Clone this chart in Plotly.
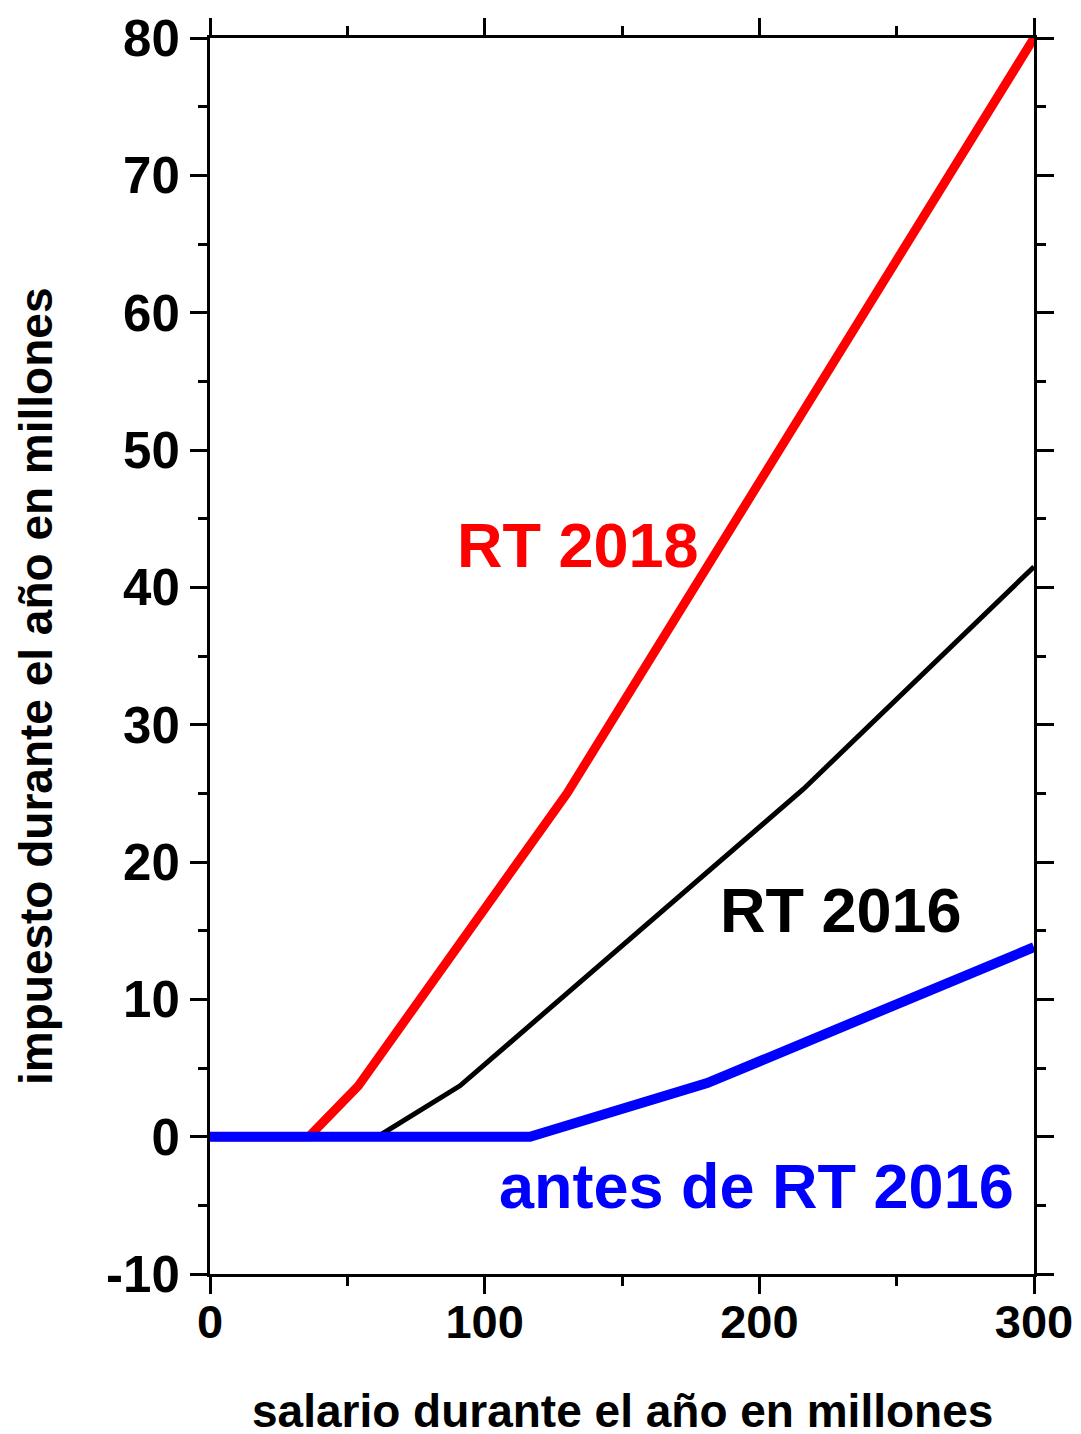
import plotly.graph_objects as go

# Data
x_rt2018 = [0, 36, 54, 130, 300]
y_rt2018 = [0, 0, 3.7, 25, 80]

x_rt2016 = [0, 61, 91, 216, 300]
y_rt2016 = [0, 0, 3.7, 25.3, 41.5]

x_antes = [0, 116.5, 181, 300]
y_antes = [0, 0, 3.9, 13.8]

x_ticks = [0, 100, 200, 300]
y_ticks = [-10, 0, 10, 20, 30, 40, 50, 60, 70, 80]

FONT = "Liberation Sans, Arial, sans-serif"

# page body has an 8px margin, so the figure is drawn slightly smaller
W, H = 1073, 1426
L, T = 202, 30
PW, PH = 824, 1236

fig = go.Figure()
fig.add_trace(go.Scatter(x=x_rt2016, y=y_rt2016, mode="lines",
                         line=dict(color="black", width=5), showlegend=False))
fig.add_trace(go.Scatter(x=x_rt2018, y=y_rt2018, mode="lines",
                         line=dict(color="#ff0000", width=9), showlegend=False))
fig.add_trace(go.Scatter(x=x_antes, y=y_antes, mode="lines",
                         line=dict(color="#0000ff", width=10), showlegend=False))

fig.add_annotation(x=134, y=43.1, xref="x", yref="y", text="RT 2018", showarrow=False,
                   font=dict(family=FONT, size=63, color="#ff0000", weight="bold"))
fig.add_annotation(x=229.7, y=16.5, xref="x", yref="y", text="RT 2016", showarrow=False,
                   font=dict(family=FONT, size=63, color="black", weight="bold"))
fig.add_annotation(x=199, y=-3.6, xref="x", yref="y", text="antes de RT 2016", showarrow=False,
                   font=dict(family=FONT, size=63, color="#0000ff", weight="bold"))

# axis titles (placed as annotations to match their offsets)
fig.add_annotation(x=0, xref="paper", xshift=-202, y=1 - (679 - T) / PH, yref="paper",
                   text="impuesto durante el año en millones", textangle=-90, showarrow=False,
                   font=dict(family=FONT, size=46, color="black", weight="bold"))
fig.add_annotation(x=0.5, xref="paper", y=0, yref="paper", yanchor="middle", yshift=-137,
                   text="salario durante el año en millones", showarrow=False,
                   font=dict(family=FONT, size=46, color="black", weight="bold"))

axis_common = dict(showgrid=False, zeroline=False, showline=True, linecolor="black",
                   linewidth=3, mirror="ticks", ticks="outside", ticklen=17, tickwidth=3,
                   tickcolor="black", automargin=False)

fig.update_xaxes(range=[0, 300], tickvals=x_ticks, ticktext=[str(v) for v in x_ticks],
                 ticklabelstandoff=-12,
                 tickfont=dict(family=FONT, size=47, color="black", weight="bold"),
                 minor=dict(tickvals=[50, 150, 250], ticklen=9, tickwidth=3, ticks="outside",
                            tickcolor="black"),
                 **axis_common)
fig.update_yaxes(range=[-10, 80], tickvals=y_ticks, ticktext=[str(v) for v in y_ticks],
                 tickfont=dict(family=FONT, size=51, color="black", weight="bold"),
                 minor=dict(tickvals=[-5, 5, 15, 25, 35, 45, 55, 65, 75], ticklen=9, tickwidth=3,
                            ticks="outside", tickcolor="black"),
                 **axis_common)

fig.update_layout(width=W, height=H, autosize=False,
                  margin=dict(l=L, r=W - L - PW, t=T, b=H - T - PH),
                  plot_bgcolor="white", paper_bgcolor="white")

fig.write_html("out.html")
